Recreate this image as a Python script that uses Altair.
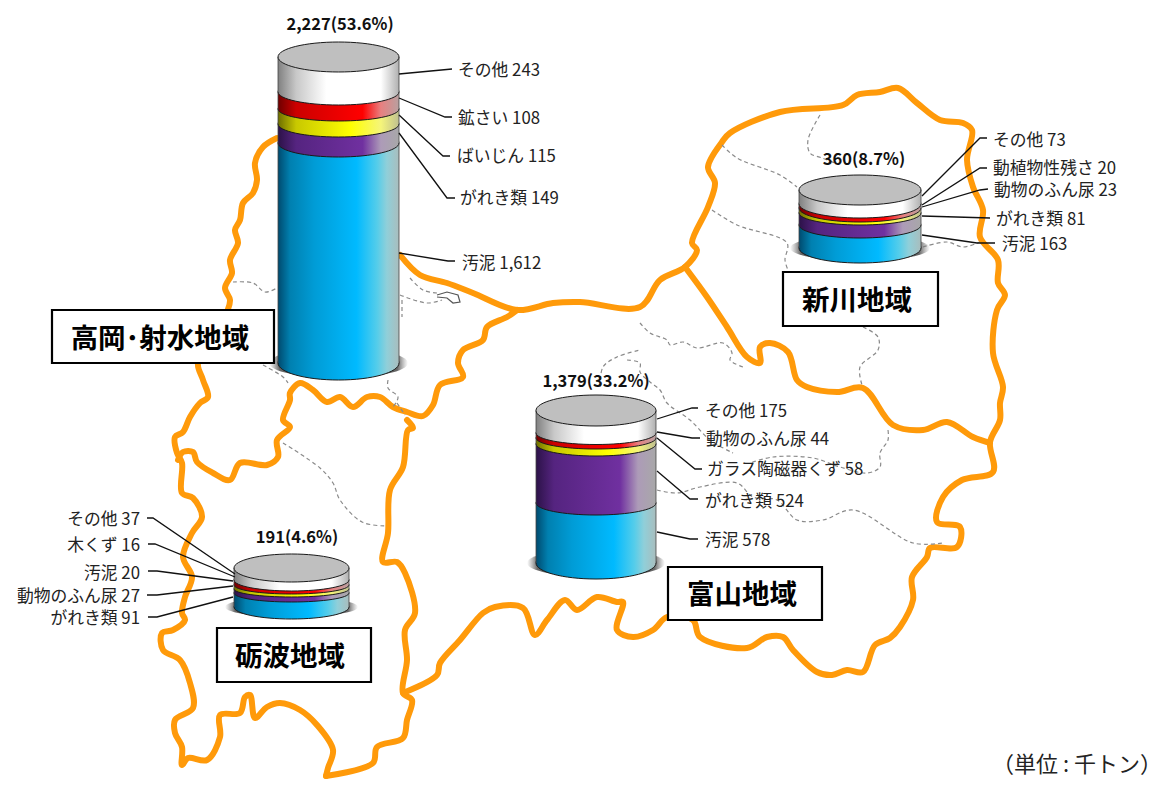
import altair as alt
import pandas as pd

FONT = "Noto Sans CJK JP"
ORANGE = "#FF9A0A"

# ---- map outlines
coast_west = [(277,138),(263,147),(255,163),(257,180),(253,193),(243,203),(240,220),(235,230),(238,243),(230,260),(232,273),(225,288),(230,300),(227,312),(215,340),(198,363),(203,380),(208,397),(200,403),(190,417),(183,432),(175,437),(177,453),(182,463),(182,493),(193,498),(202,517),(192,533),(183,557),(192,577),(185,597),(182,613),(185,620),(173,630),(162,633),(163,650),(180,660),(190,683),(193,708),(175,720),(175,733),(182,747),(182,765),(188,758),(207,760),(220,737),(220,715),(240,713),(245,697),(250,695),(255,718),(267,707),(280,703),(300,710),(317,725),(333,750),(328,768),(326,776)]
south_mid = [(326,776),(373,763),(377,747),(403,738),(407,720),(412,700),(403,693),(407,660),(405,630),(415,613),(405,573),(397,562),(383,562),(388,533),(390,490),(403,467),(408,430),(413,428),(407,420)]
south_east = [(403,693),(437,675),(440,663),(460,640),(483,613),(495,607),(523,608),(535,635),(547,620),(565,600),(577,610),(597,597),(617,602),(623,602),(617,630),(633,637),(653,630),(667,617),(693,620),(700,637),(747,648),(767,637),(783,637),(793,650),(817,672),(832,675),(847,670),(863,672),(875,645),(890,638),(900,627),(913,600),(912,577),(927,557),(930,548),(957,547),(960,527),(937,522),(943,497),(962,480),(993,472),(990,442),(1000,420),(1000,403),(1003,387),(993,353),(997,310),(1005,295),(998,283),(998,260),(980,237),(983,210),(973,187),(967,160),(972,130),(963,123),(940,120),(917,103),(898,88),(880,92),(857,95),(843,105),(780,112),(730,133),(722,142),(708,167),(715,183),(708,207),(692,243),(697,250),(685,267),(660,280),(640,307),(580,302),(553,303),(517,310),(473,293),(447,283),(420,275),(400,255)]
takaoka_south = [(178,460),(183,452),(193,452),(197,462),(213,473),(230,480),(240,463),(267,465),(278,457),(277,440),(290,427),(283,420),(290,400),(290,393),(300,383),(313,390),(327,402),(340,397),(353,407),(367,397),(380,397),(393,407),(407,412),(423,416),(433,405),(440,385),(463,377),(458,363),(463,350),(483,340),(487,327),(507,317),(517,310)]
shinkawa_south = [(685,267),(707,297),(727,327),(747,357),(760,363),(760,347),(770,343),(788,352),(797,380),(807,387),(837,392),(863,388),(893,425),(923,430),(947,422),(973,437),(990,443)]
orange_paths = [coast_west, south_mid, south_east, takaoka_south, shinkawa_south]

dashed_paths = [
    [(233,282),(253,283),(265,292),(277,288)],
    [(263,365),(283,377),(288,383)],
    [(388,380),(388,388),(398,397),(393,407)],
    [(410,278),(423,290),(437,293)],
    [(400,295),(427,303),(442,300)],
    [(402,300),(402,317)],
    [(820,115),(808,140),(810,153),(822,158),(835,163)],
    [(722,145),(737,158),(780,175),(797,187)],
    [(712,210),(737,225),(787,243),(785,260),(788,270)],
    [(923,247),(947,242),(963,247),(980,242)],
    [(863,327),(878,337),(878,350),(860,367),(862,385)],
    [(888,430),(888,440),(880,453),(880,467),(867,473),(840,467),(813,458),(773,457),(750,463)],
    [(657,490),(677,493),(700,487),(737,483),(753,497),(777,500),(797,520),(823,520),(853,510),(913,543),(943,543)],
    [(640,323),(650,333),(667,340),(670,345),(683,342),(697,348),(723,343),(732,353),(730,360),(743,367)],
    [(600,387),(603,367),(617,357),(640,350)],
    [(627,360),(640,363),(640,372),(650,382),(660,390),(667,403),(690,420),(710,440),(733,453)],
    [(283,443),(320,468),(333,483),(340,500),(362,522),(385,526)],
    [(397,403),(405,415)],
]
island = [(437,295),(447,292),(458,295),(460,302),(453,303),(447,298),(437,297)]

# ---- cylinders: x extent, top, lower edge of each band, front depth of each band
cyl_names = ["高岡・射水", "新川", "富山", "砺波"]
cyl_left = [278, 799, 536, 234]
cyl_right = [399, 921, 656, 349]
cyl_top = [57, 190, 410.5, 568]
cyl_top_ry = [15, 15, 15.5, 14]
white_edge = [92, 204, 433, 580]
red_edge = [109, 208, 438, 585]
yellow_edge = [124, 213, 444, 589]
purple_edge = [143, 225, 503, 593]
blue_edge = [363, 248, 563, 607]
white_ry = [13, 14, 11.5, 11]
red_ry = [12, 14, 11, 9]
yellow_ry = [13, 12, 12, 8]
purple_ry = [14, 13, 12, 9]
blue_ry = [17, 15, 16, 12]

# ---- text
takaoka_labels = ["その他 243", "鉱さい 108", "ばいじん 115", "がれき類 149", "汚泥 1,612"]
takaoka_x = [458, 458, 457, 460, 462]
takaoka_y = [69, 117, 155, 197, 262]
shinkawa_labels = ["その他 73", "動植物性残さ 20", "動物のふん尿 23", "がれき類 81", "汚泥 163"]
shinkawa_x = [993, 993, 994, 996, 1002]
shinkawa_y = [139, 167, 189.5, 218, 243]
toyama_labels = ["その他 175", "動物のふん尿 44", "ガラス陶磁器くず 58", "がれき類 524", "汚泥 578"]
toyama_x = [705, 706, 707, 705, 705]
toyama_y = [410, 438, 468, 500, 539]
tonami_labels = ["その他 37", "木くず 16", "汚泥 20", "動物のふん尿 27", "がれき類 91"]
tonami_x = [140, 140, 140, 140, 140]
tonami_y = [518, 544, 572, 595, 617]

leaders = [
    [(399,74),(452,69)], [(399,98),(445,117),(452,117)], [(399,115),(443,156),(450,156)],
    [(399,133),(447,198),(455,198)], [(399,253),(448,261),(455,261)],
    [(922,196),(980,138),(987,138)], [(922,205),(980,168),(987,168)], [(922,207),(980,190),(988,189)],
    [(922,216),(990,218)], [(922,235),(977,243),(995,243)],
    [(657,419),(692,408),(698,408)], [(657,432),(692,438),(700,438)], [(657,438),(695,469),(702,469)],
    [(657,471),(690,499),(698,499)], [(657,532),(690,539),(698,539)],
    [(147,518),(153,518),(235,574)], [(148,544),(155,544),(235,577)], [(148,571),(157,571),(233,581)],
    [(147,595),(157,595),(233,586)], [(148,617),(157,617),(233,597)],
]

total_labels = ["2,227(53.6%)", "360(8.7%)", "1,379(33.2%)", "191(4.6%)"]
total_x = [340, 864, 596, 297]
total_y = [23, 158, 380, 536]

box_labels = ["高岡･射水地域", "新川地域", "富山地域", "砺波地域"]
box_left = [52, 783, 668, 217]
box_right = [274, 938, 822, 371]
box_top = [310, 272, 567, 628]
box_bottom = [363, 326, 620, 682]
box_text_x = [160, 857, 742, 290]
box_text_y = [338, 300, 594, 656]

unit_label = ["（単位 : 千トン）"]
unit_x = [1162]
unit_y = [765]

# ---- scales: picture coordinates
X = alt.X("x:Q", scale=alt.Scale(domain=[8, 1163], nice=False, zero=False), axis=None)
Y = alt.Y("y:Q", scale=alt.Scale(domain=[779, 8], nice=False, zero=False), axis=None)
X2 = alt.X2("x2:Q")
Y2 = alt.Y2("y2:Q")


def grad(stops):
    return alt.LinearGradient(
        gradient="linear", x1=0, x2=1, y1=0, y2=0,
        stops=[alt.GradientStop(offset=o, color=c) for o, c in stops],
    )


BLUE = grad([(0, "#004a6e"), (.1, "#0080b0"), (.3, "#009cd6"), (.65, "#00baff"), (.82, "#55cdea"), (.9, "#90cfd9"), (1, "#a9bdbd")])
PURPLE = grad([(0, "#2c1248"), (.15, "#552480"), (.7, "#7030a0"), (.85, "#ad9bb8"), (1, "#a8a8a8")])
YELLOW = grad([(0, "#6e6e00"), (.15, "#c8c800"), (.6, "#ffff00"), (.85, "#f5f57a"), (1, "#c0c090")])
RED = grad([(0, "#6e0000"), (.15, "#cc0000"), (.7, "#ff0000"), (.85, "#e88080"), (1, "#b8a0a0")])
WHITE = grad([(0, "#808080"), (.15, "#c8c8c8"), (.4, "#ffffff"), (.85, "#ffffff"), (1, "#b0b0b0")])
SHADOW = alt.RadialGradient(
    gradient="radial", r1=0, r2=0.5, x1=.5, y1=.5, x2=.5, y2=.5,
    stops=[alt.GradientStop(offset=0, color="#555555"), alt.GradientStop(offset=.85, color="#666666"),
           alt.GradientStop(offset=1, color="rgba(140,140,140,0)")],
)


def ellipse(ratio):
    r = round(ratio, 4)
    return f"M-1 0A1 {r} 0 1 0 1 0A1 {r} 0 1 0 -1 0Z"


def path_frame(paths):
    rows = []
    for p, pts in enumerate(paths):
        for i, (x, y) in enumerate(pts):
            rows.append({"p": p, "i": i, "x": x, "y": y})
    return pd.DataFrame(rows)


def lines(paths, **kw):
    return alt.Chart(path_frame(paths)).mark_line(**kw).encode(
        x=X, y=Y, detail="p:N", order="i:Q")


def texts(labels, xs, ys, **kw):
    df = pd.DataFrame({"t": labels, "x": xs, "y": ys})
    return alt.Chart(df).mark_text(font=FONT, baseline="middle", **kw).encode(x=X, y=Y, text="t:N")


layers = [
    lines(orange_paths, color=ORANGE, strokeWidth=6, strokeJoin="round", strokeCap="round", interpolate="catmull-rom"),
    lines(dashed_paths, color="#8a8a8a", strokeWidth=1.2, strokeDash=[4, 3], interpolate="catmull-rom"),
    lines([island], color="#555555", strokeWidth=1.2),
]

bands = [
    (blue_edge, purple_edge, blue_ry, BLUE),
    (purple_edge, yellow_edge, purple_ry, PURPLE),
    (yellow_edge, red_edge, yellow_ry, YELLOW),
    (red_edge, white_edge, red_ry, RED),
    (white_edge, cyl_top, white_ry, WHITE),
]

for c in range(len(cyl_names)):
    l, r = cyl_left[c], cyl_right[c]
    w = r - l
    cx = (l + r) / 2
    # shadow below the cylinder
    sw = w + 18
    layers.append(alt.Chart(pd.DataFrame({"x": [cx], "y": [blue_edge[c]]})).mark_point(
        shape=ellipse(2 * (blue_ry[c] - 2) / sw), filled=True, fill=SHADOW, opacity=1, strokeWidth=0
    ).encode(x=X, y=Y, size=alt.value(sw * sw)))
    for low, up, ry, fill in bands:
        layers.append(alt.Chart(pd.DataFrame({"x": [cx], "y": [low[c]]})).mark_point(
            shape=ellipse(2 * ry[c] / w), filled=True, fill=fill, stroke="#1a1a1a", strokeWidth=1, opacity=1
        ).encode(x=X, y=Y, size=alt.value(w * w)))
        layers.append(alt.Chart(pd.DataFrame({"x": [l], "x2": [r], "y": [up[c]], "y2": [low[c]]})).mark_rect(
            fill=fill, opacity=1
        ).encode(x=X, x2=X2, y=Y, y2=Y2))
    layers.append(alt.Chart(pd.DataFrame({"x": [l, r], "y": [cyl_top[c]] * 2, "y2": [blue_edge[c]] * 2})).mark_rule(
        color="#444444", strokeWidth=0.8
    ).encode(x=X, y=Y, y2=Y2))
    layers.append(alt.Chart(pd.DataFrame({"x": [cx], "y": [cyl_top[c]]})).mark_point(
        shape=ellipse(2 * cyl_top_ry[c] / w), filled=True, fill="#bfbfbf", stroke="#1a1a1a", strokeWidth=1, opacity=1
    ).encode(x=X, y=Y, size=alt.value(w * w)))

layers.append(lines(leaders, color="#111111", strokeWidth=1.3))

LBL = dict(fontSize=16.8, color="#222222", dy=1.5)
layers += [
    texts(takaoka_labels, takaoka_x, takaoka_y, align="left", **LBL),
    texts(shinkawa_labels, shinkawa_x, shinkawa_y, align="left", **LBL),
    texts(toyama_labels, toyama_x, toyama_y, align="left", **LBL),
    texts(tonami_labels, tonami_x, tonami_y, align="right", **LBL),
    texts(total_labels, total_x, total_y, align="center", fontSize=16.5, fontWeight="bold", color="#111111", dy=1.5),
    alt.Chart(pd.DataFrame({"x": box_left, "x2": box_right, "y": box_top, "y2": box_bottom})).mark_rect(
        fill="#ffffff", stroke="#000000", strokeWidth=2.2, opacity=1
    ).encode(x=X, x2=X2, y=Y, y2=Y2),
    texts(box_labels, box_text_x, box_text_y, align="center", fontSize=27.5, fontWeight="bold", color="#000000", dy=2),
    texts(unit_label, unit_x, unit_y, align="right", fontSize=22, color="#222222"),
]

chart = alt.layer(*layers).properties(
    width=1155, height=771, padding=0,
    autosize=alt.AutoSizeParams(type="none"),
).configure_view(stroke=None)

chart.save("out.html", embed_options={"renderer": "svg", "actions": False})
